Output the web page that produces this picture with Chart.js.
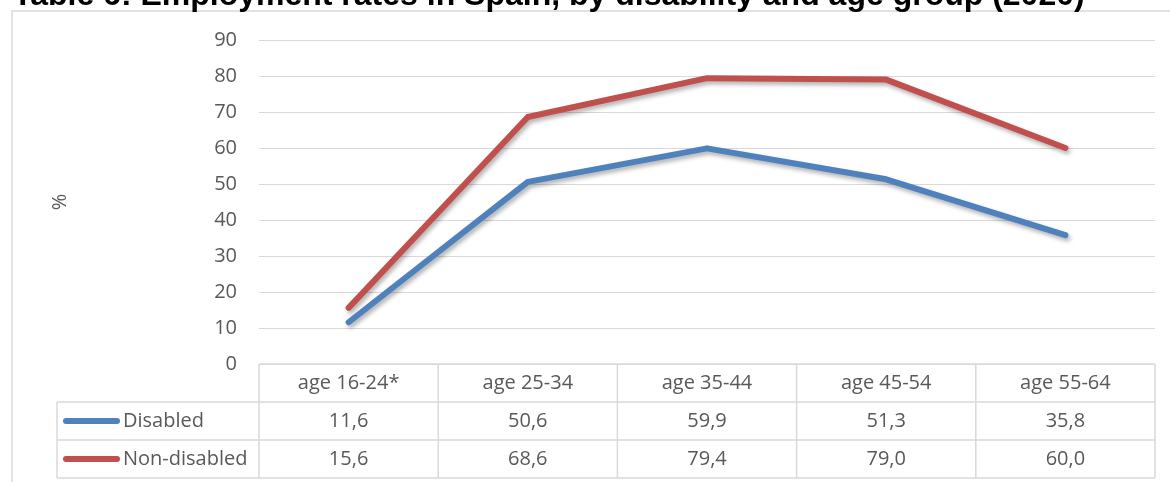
<!DOCTYPE html>
<html>
<head>
<meta charset="utf-8">
<script src="https://cdn.jsdelivr.net/npm/chart.js@4/dist/chart.umd.min.js"></script>
<style>
	html, body { margin: 0; padding: 0; background: #fff; }
	#wrap { width: 1170px; height: 482px; position: relative; }
</style>
</head>
<body>
<div id="wrap"><canvas id="myChart" width="1170" height="482"></canvas></div>
<script>
let titleText = 'Table 6: Employment rates in Spain, by disability and age group (2020)'
let categories = ['age 16-24*', 'age 25-34', 'age 35-44', 'age 45-54', 'age 55-64']
let disabled = [11.6, 50.6, 59.9, 51.3, 35.8]
let nonDisabled = [15.6, 68.6, 79.4, 79.0, 60.0]
let seriesNames = ['Disabled', 'Non-disabled']
let yTicks = [0, 10, 20, 30, 40, 50, 60, 70, 80, 90]

let blue = '#4f81bd'
let red = '#c0504d'
let grey = '#595959'
let lineGrey = '#d9d9d9'
let fontName = '"Open Sans", sans-serif'

// soft shadow under the two lines, like the office chart
let shadowPlugin = {
	id: 'shadow',
	beforeDatasetsDraw: chart => {
		let ctx = chart.ctx
		ctx.save()
		ctx.shadowColor = 'rgba(0,0,0,0.3)'
		ctx.shadowBlur = 4
		ctx.shadowOffsetX = 2
		ctx.shadowOffsetY = 3
	},
	afterDatasetsDraw: chart => {
		chart.ctx.restore()
	}
}

// frame, clipped title and the data table under the plot
let tablePlugin = {
	id: 'dataTable',
	afterDraw: chart => {
		let ctx = chart.ctx
		let area = chart.chartArea
		let x = chart.scales.x
		let colW = (area.right - area.left) / categories.length
		let rowH = 38
		let top = area.bottom
		let legendLeft = 57
		ctx.save()

		// outer frame (left and top only show)
		ctx.strokeStyle = lineGrey
		ctx.lineWidth = 1.5
		ctx.beginPath()
		ctx.moveTo(12, 482)
		ctx.lineTo(12, 11)
		ctx.lineTo(1170, 11)
		ctx.stroke()

		// title, cut at the top
		ctx.fillStyle = '#000'
		ctx.font = 'bold 32px "Liberation Sans", Arial, sans-serif'
		ctx.textAlign = 'left'
		ctx.textBaseline = 'alphabetic'
		ctx.fillText(titleText, 13, 5)

		// table grid
		ctx.strokeStyle = lineGrey
		ctx.lineWidth = 1.5
		ctx.beginPath()
		ctx.moveTo(area.left, top)
		ctx.lineTo(area.right, top)
		for (let r = 1; r <= 3; r++) {
			ctx.moveTo(legendLeft, top + r * rowH)
			ctx.lineTo(area.right, top + r * rowH)
		}
		ctx.moveTo(legendLeft, top + rowH)
		ctx.lineTo(legendLeft, top + 3 * rowH)
		for (let i = 0; i <= categories.length; i++) {
			let cx = area.left + i * colW
			ctx.moveTo(cx, top)
			ctx.lineTo(cx, top + 3 * rowH)
		}
		ctx.stroke()

		// header and values
		ctx.fillStyle = grey
		ctx.font = '20px ' + fontName
		ctx.textAlign = 'center'
		ctx.textBaseline = 'middle'
		let rows = [disabled, nonDisabled]
		categories.forEach((c, i) => {
			let cx = x.getPixelForValue(i)
			ctx.fillText(c, cx, top + rowH / 2)
			rows.forEach((d, r) => {
				ctx.fillText(d[i].toFixed(1).replace('.', ','), cx, top + rowH * (r + 1.5))
			})
		})

		// legend keys
		let colors = [blue, red]
		seriesNames.forEach((n, r) => {
			let cy = top + rowH * (r + 1.5)
			ctx.strokeStyle = colors[r]
			ctx.lineWidth = 6
			ctx.lineCap = 'round'
			ctx.beginPath()
			ctx.moveTo(66, cy)
			ctx.lineTo(117, cy)
			ctx.stroke()
			ctx.fillStyle = grey
			ctx.textAlign = 'left'
			ctx.fillText(n, 123, cy)
		})
		ctx.restore()
	}
}

let ctx = document.getElementById('myChart')
new Chart(ctx, {
	type: 'line',
	data: {
		labels: categories,
		datasets: [{
			label: seriesNames[0],
			data: disabled,
			borderColor: blue,
			backgroundColor: blue,
			borderWidth: 6,
			borderCapStyle: 'round',
			borderJoinStyle: 'round',
			pointRadius: 0,
			fill: false,
			tension: 0
		}, {
			label: seriesNames[1],
			data: nonDisabled,
			borderColor: red,
			backgroundColor: red,
			borderWidth: 6,
			borderCapStyle: 'round',
			borderJoinStyle: 'round',
			pointRadius: 0,
			fill: false,
			tension: 0
		}]
	},
	options: {
		responsive: false,
		animation: false,
		devicePixelRatio: 1,
		layout: { padding: { top: 40, bottom: 118, left: 0, right: 15 } },
		plugins: {
			legend: { display: false },
			tooltip: { enabled: false },
			title: { display: false }
		},
		scales: {
			x: {
				type: 'category',
				offset: true,
				display: false
			},
			y: {
				min: yTicks[0],
				max: yTicks[yTicks.length - 1],
				afterBuildTicks: s => { s.ticks = yTicks.map(v => ({ value: v })) },
				afterFit: s => { s.width = 259 },
				ticks: {
					color: grey,
					padding: 22,
					font: { family: fontName, size: 20 }
				},
				grid: { color: lineGrey, lineWidth: 1, drawTicks: false },
				border: { display: false },
				title: {
					display: true,
					text: '%',
					color: grey,
					padding: { top: 48, bottom: 0 },
					font: { family: fontName, size: 20 }
				}
			}
		}
	},
	plugins: [shadowPlugin, tablePlugin]
})
</script>
</body>
</html>
